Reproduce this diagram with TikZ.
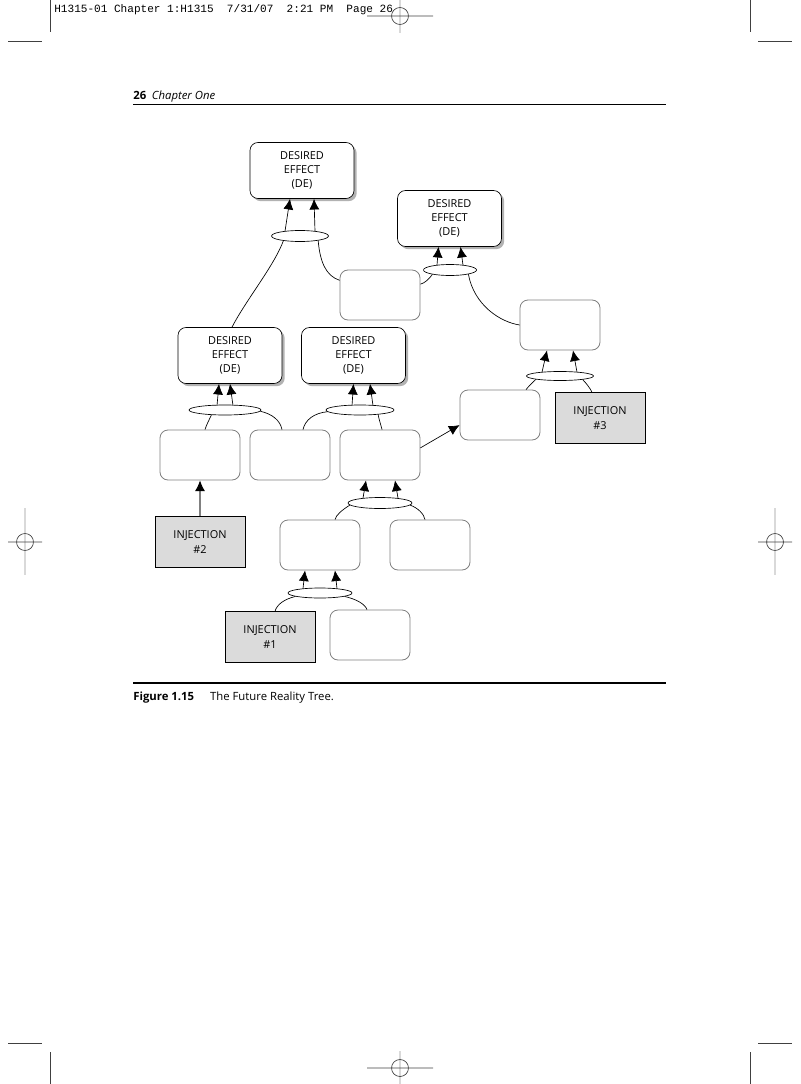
\documentclass[tikz,border=0pt]{standalone}
\usepackage{fontspec}
\setmainfont{Open Sans}
\setmonofont{Liberation Mono}
\usetikzlibrary{positioning,shapes.geometric,arrows.meta,calc,shadows}

\tikzset{
  deffect/.style={draw=black, fill=white, line width=0.5pt, rounded corners=6pt,
    minimum width=78pt, minimum height=42pt, align=center, inner sep=1pt,
    font=\fontsize{8.2}{10.8}\selectfont,
    drop shadow={shadow xshift=2pt, shadow yshift=-2pt, fill=black!30, opacity=1}},
  entity/.style={draw=black!50, fill=white, line width=0.6pt, rounded corners=6pt,
    minimum width=60pt, minimum height=37.5pt},
  injection/.style={draw=black, fill=black!14, line width=0.6pt,
    minimum width=67.5pt, minimum height=38pt, align=center, inner sep=1pt,
    font=\fontsize{8.2}{10.8}\selectfont},
  andgate/.style={draw, ellipse, inner sep=0pt, line width=0.5pt},
  arr/.style={-{Latex[length=8pt,width=7.5pt]}},
  crop/.style={draw=black!75, line width=0.5pt},
  regline/.style={draw=black!15, line width=1.5pt}
}

\begin{document}
\begin{tikzpicture}[x=0.75pt, y=-0.75pt, line width=0.5pt]
  \useasboundingbox (0,0) rectangle (800,1084);

  \draw[crop] (50,0) -- (50,32) (8,41) -- (42,41);
  \draw[crop] (750,0) -- (750,32) (758,41) -- (792,41);
  \draw[crop] (50,1052) -- (50,1084) (8,1043) -- (42,1043);
  \draw[crop] (750,1052) -- (750,1084) (758,1043) -- (792,1043);
  \draw[regline] (400,0) -- (400,33);
  \draw[crop] (367,16) -- (433,16) (400,16) circle (8.5);
  \draw[regline] (400,1051) -- (400,1084);
  \draw[crop] (367,1068) -- (433,1068) (400,1068) circle (8.5);
  \draw[regline] (25,508) -- (25,575);
  \draw[crop] (8,542) -- (42,542) (25,542) circle (8.5);
  \draw[regline] (775,508) -- (775,575);
  \draw[crop] (758,542) -- (792,542) (775,542) circle (8.5);

  \node[anchor=base west, inner sep=0pt, font=\ttfamily\fontsize{8.3}{10}\selectfont] (slug) at (54,12.5)
    {H1315-01 Chapter 1:H1315\ \ 7/31/07\ \ 2:21 PM\ \ Page 26};
  \node[anchor=base west, inner sep=0pt, font=\fontsize{8.5}{10}\selectfont] (runhead) at (133,100)
    {\textbf{26}\enspace\textit{Chapter One}};
  \draw[line width=0.75pt] (133,105) -- (666,105);

  \node[deffect] (de1) at (302,170.5) {DESIRED\\EFFECT\\(DE)};
  \node[deffect] (de2) at (449.5,218.5) {DESIRED\\EFFECT\\(DE)};
  \node[deffect] (de3) at (230,355.5) {DESIRED\\EFFECT\\(DE)};
  \node[deffect] (de4) at (353.5,355.5) {DESIRED\\EFFECT\\(DE)};

  \node[entity] (mid) at (380,295) {};
  \node[entity] (rt) at (560,325) {};
  \node[entity] (ca) at (200,455) {};
  \node[entity] (cb) at (290,455) {};
  \node[entity] (cc) at (380,455) {};
  \node[entity] (cd) at (500,415) {};
  \node[entity] (ce) at (320,545) {};
  \node[entity] (cf) at (430,545) {};
  \node[entity] (cg) at (370,635) {};

  \node[injection] (inj2) at (200,542) {INJECTION\\\#2};
  \node[injection] (inj1) at (270,637) {INJECTION\\\#1};
  \node[injection] (inj3) at (600,418) {INJECTION\\\#3};

  \node[andgate, minimum width=42.75pt, minimum height=8.25pt] (and1) at (300,236) {};
  \node[andgate, minimum width=39.75pt, minimum height=8.25pt] (and2) at (450,270) {};
  \node[andgate, minimum width=54pt, minimum height=7.5pt] (and3) at (225,410) {};
  \node[andgate, minimum width=51pt, minimum height=7.5pt] (and4) at (360,410) {};
  \node[andgate, minimum width=50.25pt, minimum height=6.75pt] (and5) at (560,376) {};
  \node[andgate, minimum width=48pt, minimum height=8.25pt] (and6) at (380,503) {};
  \node[andgate, minimum width=48pt, minimum height=7.5pt] (and7) at (320,593) {};

  \draw[arr] ($(and1.north)+(-15,1)$) -- ($(de1.south)+(-12,0)$);
  \draw[arr] ($(and1.north)+(15,1)$) -- ($(de1.south)+(12,0)$);
  \draw[arr] ($(and2.north)+(-13,1)$) -- ($(de2.south)+(-11,0)$);
  \draw[arr] ($(and2.north)+(13,1)$) -- ($(de2.south)+(11,0)$);
  \draw[arr] ($(and3.north)+(-8,1)$) -- ($(de3.south)+(-11,0)$);
  \draw[arr] ($(and3.north)+(8,1)$) -- ($(de3.south)+(0,0)$);
  \draw[arr] ($(and4.north)+(-8,1)$) -- ($(de4.south)+(0,0)$);
  \draw[arr] ($(and4.north)+(13,1)$) -- ($(de4.south)+(16.5,0)$);
  \draw[arr] ($(and5.north)+(-18,1)$) -- ($(rt.south)+(-13,0)$);
  \draw[arr] ($(and5.north)+(17,1)$) -- ($(rt.south)+(13,0)$);
  \draw[arr] ($(and6.north)+(-17,1)$) -- ($(cc.south)+(-14,0)$);
  \draw[arr] ($(and6.north)+(18,1)$) -- ($(cc.south)+(15,0)$);
  \draw[arr] ($(and7.north)+(-17,1)$) -- ($(ce.south)+(-15,0)$);
  \draw[arr] ($(and7.north)+(17,1)$) -- ($(ce.south)+(15,0)$);

  \draw (and1.196) .. controls (274,266) and (246,300) .. ($(de3.north)+(2,0)$);
  \draw (and1.346) .. controls (320,262) and (326,276) .. (mid.160);
  \draw (and2.194) .. controls (429,279) and (425,283) .. (mid.15);
  \draw (and2.347) .. controls (474,305) and (500,322) .. (rt.west);
  \draw (and3.200) .. controls (209,420) and (206,426) .. ($(ca.north)+(5,0)$);
  \draw (and3.358) .. controls (272,414) and (280,420) .. ($(cb.north)+(-8,0)$);
  \draw (and4.183) .. controls (314,413) and (305,420) .. ($(cb.north)+(13,0)$);
  \draw (and4.346) .. controls (379,420) and (381,425) .. ($(cc.north)+(2,0)$);
  \draw (and5.188) .. controls (532,383) and (528,387) .. ($(cd.north)+(26,0)$);
  \draw (and5.351) .. controls (586,383) and (590,388) .. ($(inj3.north)+(-8,0)$);
  \draw (and6.184) .. controls (342,510) and (336,515) .. ($(ce.north)+(15,0)$);
  \draw (and6.356) .. controls (418,508) and (424,514) .. ($(cf.north)+(-5,0)$);
  \draw (and7.188) .. controls (285,599) and (277,604) .. ($(inj1.north)+(5,0)$);
  \draw (and7.352) .. controls (356,599) and (365,604) .. ($(cg.north)+(-3,0)$);

  \draw[draw=black!50, line width=0.8pt, -{Latex[length=8pt,width=7.5pt,color=black]}] (inj2) -- (ca);
  \draw[arr] (cc.10) -- (cd.194);

  \draw[line width=1.5pt] (133,683) -- (666,683);
  \node[anchor=base west, inner sep=0pt, font=\fontsize{8.5}{10}\selectfont] (caption) at (133,700)
    {\textbf{Figure 1.15}\hspace{12pt}The Future Reality Tree.};
\end{tikzpicture}
\end{document}
